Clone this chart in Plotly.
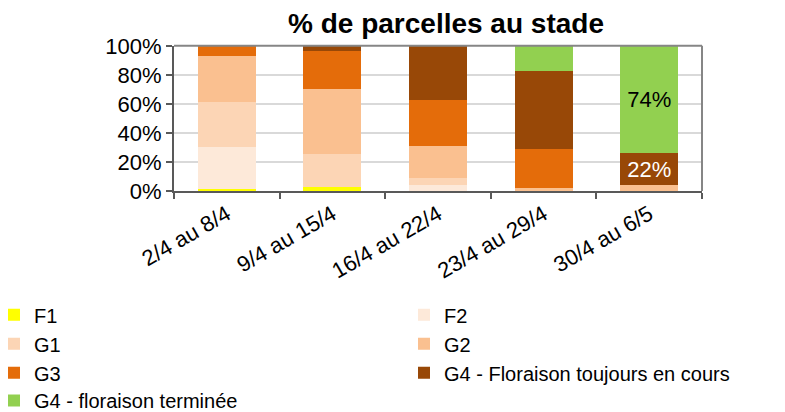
import plotly.graph_objects as go

categories = ["2/4 au 8/4", "9/4 au 15/4", "16/4 au 22/4", "23/4 au 29/4", "30/4 au 6/5"]
F1 = [1.5, 2.6, 0, 0, 0]
F2 = [28.5, 0, 4.3, 0, 0]
G1 = [31, 22.6, 4.7, 0, 0]
G2 = [32, 45.3, 21.9, 1.9, 4]
G3 = [7, 26, 32, 26.9, 0]
G4_cours = [0, 3.5, 37.1, 53.9, 22]
G4_term = [0, 0, 0, 17.3, 74]
label_cours = ["", "", "", "", "22%"]
label_term = ["", "", "", "", "74%"]

series = [
    ("F1", F1, "#FFFF00", "legend", None, None),
    ("F2", F2, "#FDE9D9", "legend2", None, None),
    ("G1", G1, "#FCD5B5", "legend", None, None),
    ("G2", G2, "#FAC090", "legend2", None, None),
    ("G3", G3, "#E46C0A", "legend", None, None),
    ("G4 - Floraison toujours en cours", G4_cours, "#984807", "legend2", label_cours, "white"),
    ("G4 - floraison terminée", G4_term, "#92D050", "legend3", label_term, "black"),
]

W, H = 785, 412
FONT = "Liberation Sans, Arial, sans-serif"
fig = go.Figure()
for name, vals, color, leg, txt, tcol in series:
    kw = {}
    if txt is not None:
        kw = dict(text=txt, textposition="inside", insidetextanchor="middle",
                  textangle=0, textfont=dict(color=tcol, size=22, family=FONT),
                  constraintext="none")
    fig.add_trace(go.Bar(x=categories, y=vals, name=name, marker_color=color,
                         marker_line_width=0, legend=leg, hoverinfo="skip", **kw))

leg_common = dict(orientation="v", traceorder="normal", indentation=-14,
                  font=dict(size=20, family=FONT), bgcolor="rgba(0,0,0,0)", tracegroupgap=0)
fig.update_layout(
    barmode="stack",
    bargap=0.45,
    width=W, height=H,
    margin=dict(l=0, r=0, t=0, b=0),
    paper_bgcolor="white", plot_bgcolor="white",
    font=dict(family=FONT, color="black", size=22),
    title=dict(text="<b>% de parcelles au stade</b>", x=438 / W, xref="paper", xanchor="center",
               y=1 - 15 / H, yref="container", yanchor="middle",
               font=dict(size=28, family=FONT, color="black")),
    legend=dict(x=0.0, xanchor="left", y=0.3025, yanchor="top", **leg_common),
    legend2=dict(x=410 / W, xanchor="left", y=0.3025, yanchor="top", **leg_common),
    legend3=dict(x=0.0, xanchor="left", y=0.0, yanchor="bottom", **leg_common),
    showlegend=True,
)
fig.update_xaxes(domain=[166 / W, 694 / W], showline=True, linecolor="#595959", linewidth=2,
                 ticks="outside", tickson="boundaries", ticklen=6, tickwidth=2,
                 tickcolor="#595959", tickangle=-30, tickfont=dict(size=22), showgrid=False,
                 automargin=False)
fig.update_yaxes(domain=[0.5558, 0.9082], range=[0, 100], dtick=20, ticksuffix="%",
                 showline=True, linecolor="#595959",
                 linewidth=2, ticks="outside", ticklen=6, tickwidth=2, tickcolor="#595959",
                 showgrid=True, gridcolor="#D9D9D9", gridwidth=1.5, zeroline=False,
                 tickfont=dict(size=22), automargin=False)
fig.add_shape(type="line", xref="x domain", yref="y domain", x0=0, x1=1, y0=1, y1=1,
              line=dict(color="#868686", width=2))
fig.add_shape(type="line", xref="x domain", yref="y domain", x0=1, x1=1, y0=0, y1=1,
              line=dict(color="#868686", width=2))
fig.write_html("out.html")
